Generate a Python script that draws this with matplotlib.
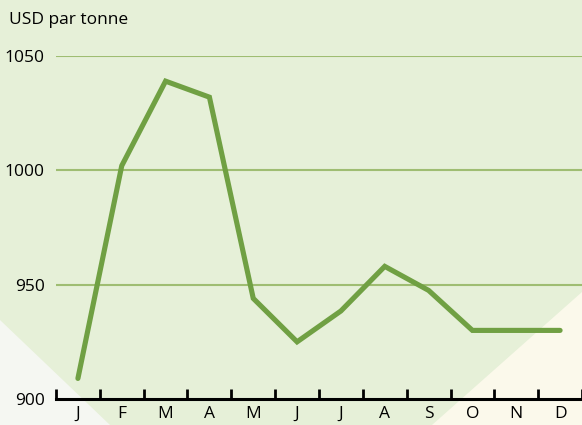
import matplotlib.pyplot as plt
from matplotlib.patches import Polygon

months = ['J', 'F', 'M', 'A', 'M', 'J', 'J', 'A', 'S', 'O', 'N', 'D']
prices = [909, 1002, 1039, 1032, 944, 925, 938.5, 958, 947.5, 930, 930, 930]
yticks = [900, 950, 1000, 1050]

W, H = 582, 425
fig = plt.figure(figsize=(W / 100, H / 100), dpi=100)
fig.patch.set_facecolor('#e6f0d8')

# coins plus clairs en bas
fig.patches.append(Polygon([(0, 0), (0, (H - 320) / H), (110 / W, 0)],
                           closed=True, transform=fig.transFigure,
                           facecolor='#f5f7f2', edgecolor='none', zorder=-5))
fig.patches.append(Polygon([(1, 0), (1, (H - 292) / H), (432 / W, 0)],
                           closed=True, transform=fig.transFigure,
                           facecolor='#fbf9eb', edgecolor='none', zorder=-5))

ax = fig.add_axes([56 / W, (H - 399) / H, 1 - 56 / W, (399 - 56) / H])
ax.patch.set_alpha(0)
ax.set_zorder(2)

fs = 12.5
x = list(range(len(months)))
for v in yticks[1:]:
    ax.axhline(v, color='#9fbd72', lw=1.5, zorder=1)
ax.plot(x, prices, color='#70a043', lw=3.7, solid_capstyle='round',
        solid_joinstyle='miter', clip_on=False, zorder=3)

ax.set_xlim(-0.5, 11.5)
ax.set_ylim(900, 1050)

for s in ['top', 'right', 'left']:
    ax.spines[s].set_visible(False)
ax.spines['bottom'].set_linewidth(2.2)
ax.spines['bottom'].set_color('black')

ax.set_xticks([i - 0.5 for i in range(13)])
ax.set_xticklabels([])
ax.tick_params(axis='x', which='major', direction='in', length=7, width=2, color='black')
ax.set_xticks(x, minor=True)
ax.set_xticklabels(months, minor=True, fontsize=fs, family='Open Sans')
ax.tick_params(axis='x', which='minor', length=0, pad=5)

ax.set_yticks(yticks)
ax.set_yticklabels([str(v) for v in yticks], fontsize=fs, family='Open Sans')
ax.tick_params(axis='y', length=0, pad=8)

fig.text(9 / W, 1 - 20 / H, 'USD par tonne', fontsize=fs, family='Open Sans',
         va='center', ha='left')

fig.savefig('out.png', dpi=100, facecolor=fig.get_facecolor())
